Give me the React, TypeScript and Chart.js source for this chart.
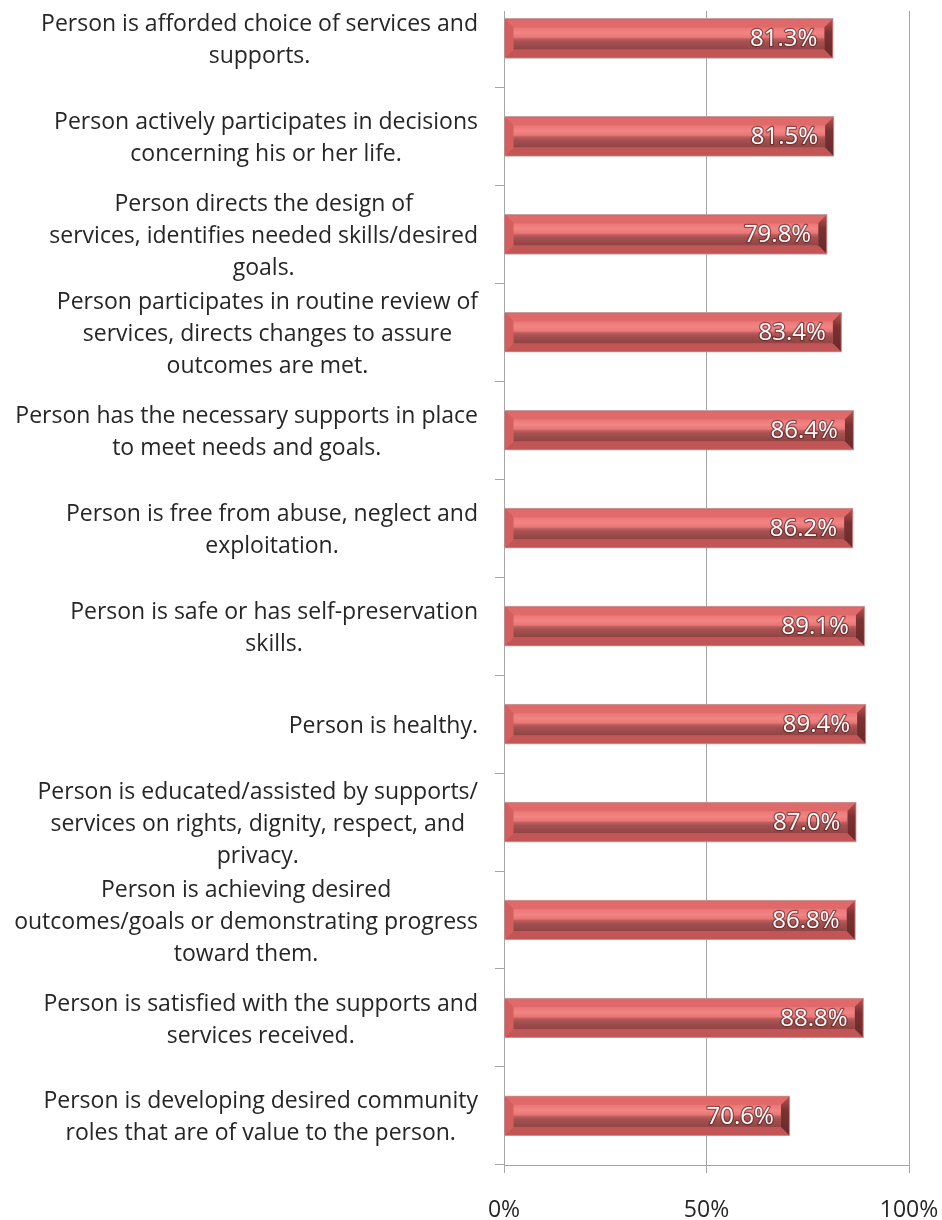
import React, { useEffect, useRef } from "react";
import { Chart, registerables } from "chart.js";

Chart.register(...registerables);

// ---- Data ----
const categories: string[][] = [
  ["Person is afforded choice of services and", "supports."],
  ["Person actively participates in decisions", "concerning his or her life."],
  ["Person directs the design of", "services, identifies needed skills/desired", "goals."],
  ["Person participates in routine review of", "services, directs changes to assure", "outcomes are met."],
  ["Person has the necessary supports in place", "to meet needs and goals."],
  ["Person is free from abuse, neglect and", "exploitation."],
  ["Person is safe or has self-preservation", "skills."],
  ["Person is healthy."],
  ["Person is educated/assisted by supports/", "services on rights, dignity, respect, and", "privacy."],
  ["Person is achieving desired", "outcomes/goals or demonstrating progress", "toward them."],
  ["Person is satisfied with the supports and", "services received."],
  ["Person is developing desired community", "roles that are of value to the person."],
];

const values: number[] = [81.3, 81.5, 79.8, 83.4, 86.4, 86.2, 89.1, 89.4, 87.0, 86.8, 88.8, 70.6];

const xTickValues: number[] = [0, 50, 100];

// ---- Styling ----
const FONT_FAMILY = "'Open Sans'";
const LABEL_FONT = `23px ${FONT_FAMILY}`;
const VALUE_FONT = `24px ${FONT_FAMILY}`;
const TEXT_COLOR = "#262626";
const AXIS_COLOR = "#a6a6a6";

function poly(ctx: CanvasRenderingContext2D, pts: number[][], fill: string | CanvasGradient) {
  ctx.beginPath();
  ctx.moveTo(pts[0][0], pts[0][1]);
  for (let i = 1; i < pts.length; i++) ctx.lineTo(pts[i][0], pts[i][1]);
  ctx.closePath();
  ctx.fillStyle = fill;
  ctx.fill();
}

const bevelPlugin = {
  id: "bevelBars",
  afterDatasetsDraw(chart: any) {
    const ctx: CanvasRenderingContext2D = chart.ctx;
    const meta = chart.getDatasetMeta(0);
    meta.data.forEach((el: any, i: number) => {
      const p = el.getProps(["x", "y", "base", "height"], true);
      const ox0 = Math.min(p.base, p.x);
      const ox1 = Math.max(p.base, p.x);
      const oy0 = p.y - p.height / 2;
      const oy1 = p.y + p.height / 2;
      const x0 = ox0 + 1, x1 = ox1 - 1, y0 = oy0 + 1, y1 = oy1 - 1;
      const b = 8;
      ctx.save();
      // top bevel
      poly(ctx, [[x0, y0], [x1, y0], [x1 - b, y0 + b], [x0 + b, y0 + b]], "#e06969");
      // bottom bevel
      poly(ctx, [[x0, y1], [x1, y1], [x1 - b, y1 - b], [x0 + b, y1 - b]], "#c25656");
      // left bevel
      poly(ctx, [[x0, y0], [x0 + b, y0 + b], [x0 + b, y1 - b], [x0, y1]], "#d45f5f");
      // right bevel
      const rg = ctx.createLinearGradient(0, y0, 0, y1);
      rg.addColorStop(0, "#b85050");
      rg.addColorStop(0.35, "#7a3232");
      rg.addColorStop(1, "#6a2a2a");
      poly(ctx, [[x1, y0], [x1 - b, y0 + b], [x1 - b, y1 - b], [x1, y1]], rg);
      // inner face
      const g = ctx.createLinearGradient(0, y0 + b, 0, y1 - b);
      g.addColorStop(0, "#ec7676");
      g.addColorStop(0.25, "#f28484");
      g.addColorStop(0.45, "#e87676");
      g.addColorStop(0.52, "#c05e5e");
      g.addColorStop(0.65, "#a65151");
      g.addColorStop(1, "#904444");
      ctx.fillStyle = g;
      ctx.fillRect(x0 + b, y0 + b, x1 - x0 - 2 * b, y1 - y0 - 2 * b);

      // value label
      const txt = values[i].toFixed(1) + "%";
      ctx.font = VALUE_FONT;
      ctx.textAlign = "right";
      ctx.textBaseline = "middle";
      ctx.lineJoin = "round";
      ctx.lineWidth = 2.5;
      ctx.strokeStyle = "rgba(90,30,30,0.6)";
      ctx.strokeText(txt, ox1 - 16, p.y + 1);
      ctx.fillStyle = "#ffffff";
      ctx.fillText(txt, ox1 - 16, p.y + 1);
      ctx.restore();
    });
  },
};

const yLabelPlugin = {
  id: "yLabels",
  afterDraw(chart: any) {
    const s = chart.scales.y;
    const ctx: CanvasRenderingContext2D = chart.ctx;
    ctx.save();
    ctx.font = LABEL_FONT;
    ctx.fillStyle = TEXT_COLOR;
    ctx.textAlign = "center";
    ctx.textBaseline = "middle";
    categories.forEach((lines, i) => {
      const cy = s.getPixelForValue(i) + 2;
      const w = Math.max(...lines.map((l) => ctx.measureText(l).width));
      const cx = s.right - 26 - w / 2;
      lines.forEach((l, j) => {
        ctx.fillText(l, cx, cy + (j - (lines.length - 1) / 2) * 32);
      });
    });
    ctx.restore();
  },
};

export default function App() {
  const ref = useRef<HTMLCanvasElement | null>(null);

  useEffect(() => {
    if (!ref.current) return;
    const chart = new Chart(ref.current, {
      type: "bar",
      data: {
        labels: categories,
        datasets: [
          {
            data: values,
            backgroundColor: "#d95f5f",
            borderColor: "#c9a0a0",
            borderWidth: 1,
            barThickness: 40,
          },
        ],
      },
      options: {
        indexAxis: "y",
        responsive: false,
        animation: false,
        layout: { padding: { top: 11, right: 33, left: 0, bottom: 0 } },
        plugins: { legend: { display: false }, tooltip: { enabled: false } },
        scales: {
          x: {
            min: 0,
            max: 100,
            afterBuildTicks: (s: any) => {
              s.ticks = xTickValues.map((v) => ({ value: v }));
            },
            ticks: {
              callback: (v: any) => v + "%",
              font: { family: "Open Sans", size: 23 },
              color: TEXT_COLOR,
              padding: 24,
              maxRotation: 0,
            },
            grid: { color: AXIS_COLOR, tickLength: 8, drawTicks: true },
            border: { color: AXIS_COLOR },
            afterFit: (s: any) => {
              s.height = 55;
              s.paddingLeft = 0;
              s.paddingRight = 0;
            },
          },
          y: {
            ticks: { display: false },
            grid: { drawOnChartArea: false, offset: true, tickLength: 9, color: AXIS_COLOR },
            border: { color: AXIS_COLOR },
            afterFit: (s: any) => {
              s.width = 504;
              s.paddingTop = 0;
              s.paddingBottom = 0;
            },
            afterBuildTicks: (s: any) => {
              s._startValue = -0.28;
              s._valueRange = 11.781;
            },
          },
        },
      } as any,
      plugins: [bevelPlugin, yLabelPlugin],
    });
    return () => chart.destroy();
  }, []);

  return (
    <div style={{ position: "absolute", left: 0, top: 0, width: 942, height: 1220, background: "#fff" }}>
      <canvas ref={ref} width={942} height={1220} style={{ display: "block" }} />
    </div>
  );
}
